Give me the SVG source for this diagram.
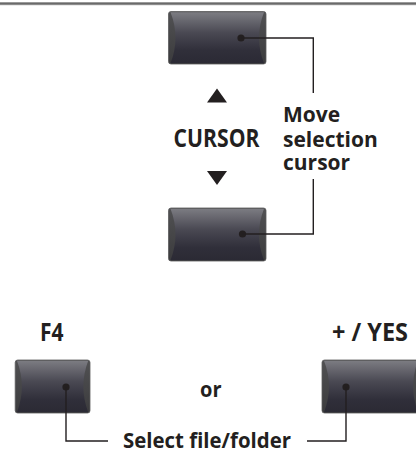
<svg xmlns="http://www.w3.org/2000/svg" width="416" height="455" viewBox="0 0 416 455">
<style>
.lbl{font-family:"Open Sans","Liberation Sans",sans-serif;fill:#231f20}
.b{font-weight:700;font-size:21px}
.r{font-weight:700;font-size:25px}
.wire{fill:none;stroke:#231f20;stroke-width:1.4}
.dot{fill:#231f20}
.side{fill:url(#sideG);stroke:#5a5a5c;stroke-width:0.8}
.face{fill:url(#faceG)}
</style>
<defs>
<linearGradient id="sideG" x1="0" y1="0" x2="0" y2="1">
<stop offset="0" stop-color="#515153"/>
<stop offset="1" stop-color="#3b3b3d"/>
</linearGradient>
<linearGradient id="faceG" x1="0" y1="0" x2="0" y2="1">
<stop offset="0" stop-color="#7c7c82"/>
<stop offset="0.4" stop-color="#4a4953"/>
<stop offset="0.75" stop-color="#302f3a"/>
<stop offset="1" stop-color="#2b2a34"/>
</linearGradient>
</defs>
<rect x="0" y="2" width="416" height="3.2" fill="#9a9a9a"/>
<rect x="0" y="3" width="416" height="1.3" fill="#6a6a6a"/>

<g id="btn-up">
<rect class="side" x="168.5" y="11.5" width="97.5" height="52.5" rx="2.5"/>
<path class="face" d="M170.5,12.2 L264,12.2 Q254,37.7 264,63.3 L170.5,63.3 Q180.5,37.7 170.5,12.2 Z"/>
</g>
<g id="btn-down">
<rect class="side" x="168.5" y="208" width="97.5" height="53" rx="2.5"/>
<path class="face" d="M170.5,208.7 L264,208.7 Q254,234.5 264,260.3 L170.5,260.3 Q180.5,234.5 170.5,208.7 Z"/>
</g>
<g id="btn-f4">
<rect class="side" x="15.2" y="360" width="74.8" height="53" rx="2.5"/>
<path class="face" d="M17,360.7 L88.2,360.7 Q78.5,386.5 88.2,412.3 L17,412.3 Q26.7,386.5 17,360.7 Z"/>
</g>
<g id="btn-yes">
<rect class="side" x="322" y="360" width="98" height="53" rx="2.5"/>
<path class="face" d="M324,360.7 L418,360.7 Q408,386.5 418,412.3 L324,412.3 Q334,386.5 324,360.7 Z"/>
</g>

<g id="cursor-label">
<polygon points="217,88.5 207,102.5 227,102.5" fill="#231f20"/>
<text class="lbl r" x="173.5" y="147" textLength="86" lengthAdjust="spacingAndGlyphs">CURSOR</text>
<polygon points="207,171 227,171 217,185" fill="#231f20"/>
</g>
<g id="move-label">
<text class="lbl b" x="283" y="121.7">Move</text>
<text class="lbl b" x="283" y="146.5">selection</text>
<text class="lbl b" x="283" y="170">cursor</text>
</g>
<g id="f4-label"><text class="lbl r" x="40" y="340.7" textLength="23.5" lengthAdjust="spacingAndGlyphs">F4</text></g>
<g id="yes-label"><text class="lbl r" x="332" y="340.7" textLength="76" lengthAdjust="spacingAndGlyphs">+ / YES</text></g>
<g id="or-label"><text class="lbl b" x="200" y="396.5" textLength="21.5" lengthAdjust="spacingAndGlyphs">or</text></g>
<g id="select-label"><text class="lbl b" x="123" y="448" textLength="168" lengthAdjust="spacingAndGlyphs">Select file/folder</text></g>

<g id="connectors">
<circle class="dot" cx="241" cy="38" r="3.6"/>
<polyline class="wire" points="241,38 313.3,38 313.3,93"/>
<circle class="dot" cx="242.5" cy="234" r="3.6"/>
<polyline class="wire" points="313.3,179 313.3,234 242.5,234"/>
<circle class="dot" cx="66" cy="387" r="3.6"/>
<polyline class="wire" points="66,387 66,441 108,441"/>
<circle class="dot" cx="346" cy="387" r="3.6"/>
<polyline class="wire" points="307,441 346,441 346,387"/>
</g>
</svg>
